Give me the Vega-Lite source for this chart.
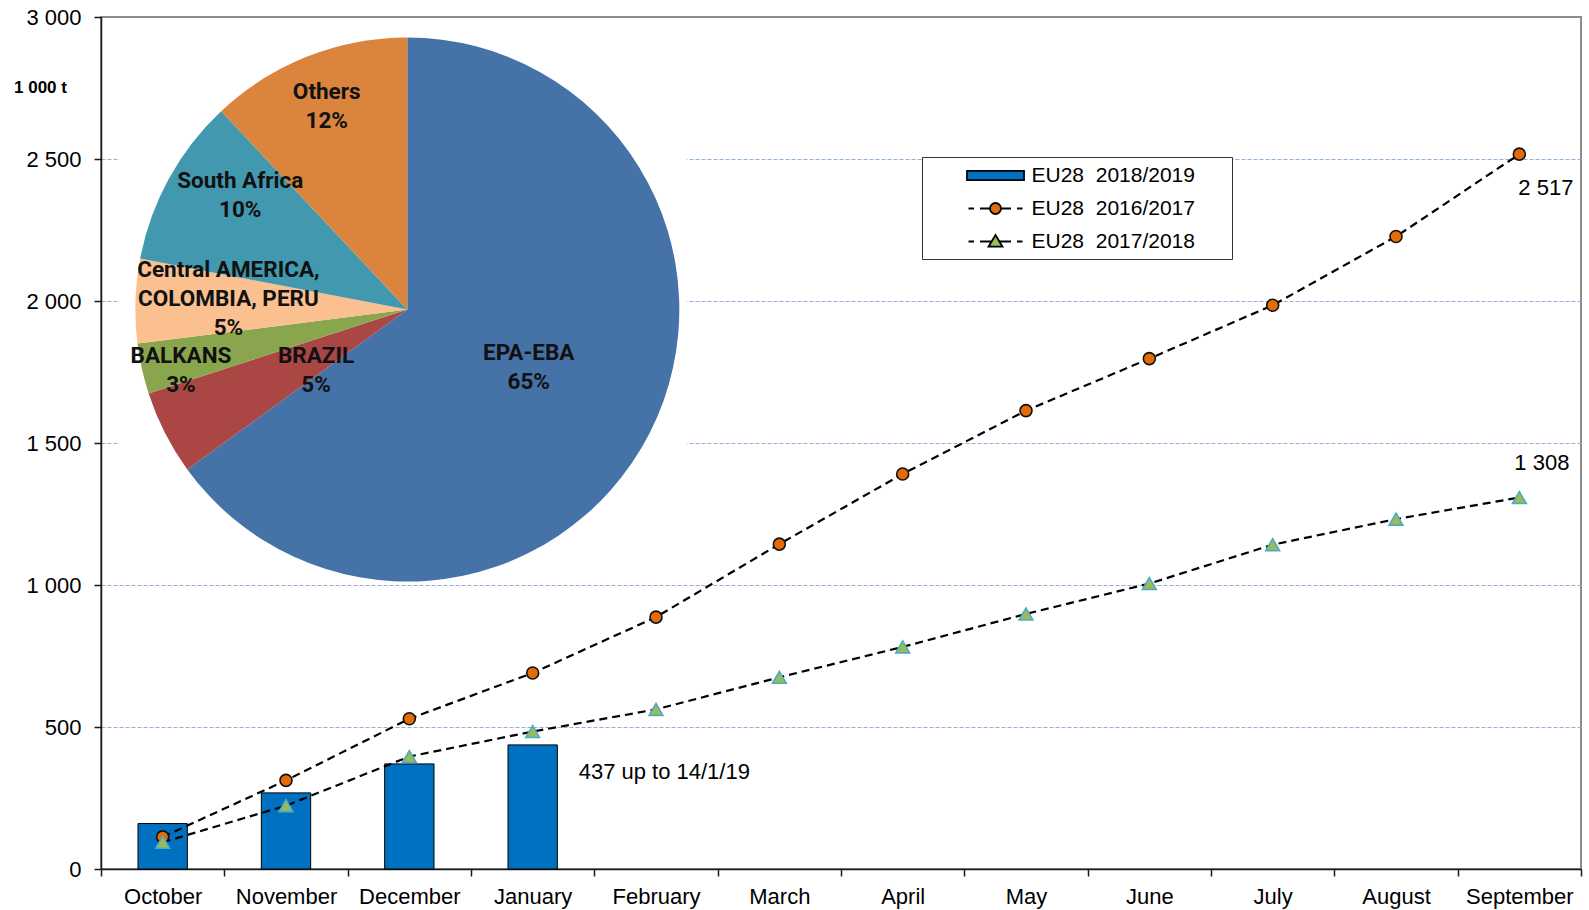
{
  "$schema": "https://vega.github.io/schema/vega-lite/v6.json",
  "width": 1480,
  "height": 852,
  "autosize": {"type": "none"},
  "padding": {"left": 101, "top": 17, "right": 8, "bottom": 41},
  "background": "white",
  "config": {
    "view": {"stroke": "#8c8c8c", "strokeWidth": 2},
    "axis": {
      "labelFont": "Liberation Sans",
      "labelFontSize": 22,
      "labelColor": "black",
      "domainColor": "#1a1a1a",
      "domainWidth": 1.5,
      "tickColor": "#1a1a1a",
      "tickWidth": 1.5,
      "tickSize": 7,
      "titleFont": "Liberation Sans",
      "titleColor": "black"
    },
    "axisX": {"tickBand": "extent", "labelPadding": 10, "labelAngle": 0, "grid": false},
    "axisY": {"gridDash": [4, 2], "gridColor": "#8FB0DA", "gridWidth": 1.2, "labelPadding": 13}
  },
  "data": {
    "values": [
      {"month": "October", "series": "EU28  2018/2019", "value": 160},
      {"month": "November", "series": "EU28  2018/2019", "value": 268},
      {"month": "December", "series": "EU28  2018/2019", "value": 370},
      {"month": "January", "series": "EU28  2018/2019", "value": 437},
      {"month": "October", "series": "EU28  2016/2017", "value": 113},
      {"month": "November", "series": "EU28  2016/2017", "value": 312},
      {"month": "December", "series": "EU28  2016/2017", "value": 529},
      {"month": "January", "series": "EU28  2016/2017", "value": 690},
      {"month": "February", "series": "EU28  2016/2017", "value": 887},
      {"month": "March", "series": "EU28  2016/2017", "value": 1144},
      {"month": "April", "series": "EU28  2016/2017", "value": 1391},
      {"month": "May", "series": "EU28  2016/2017", "value": 1614},
      {"month": "June", "series": "EU28  2016/2017", "value": 1797},
      {"month": "July", "series": "EU28  2016/2017", "value": 1985},
      {"month": "August", "series": "EU28  2016/2017", "value": 2227},
      {"month": "September", "series": "EU28  2016/2017", "value": 2517},
      {"month": "October", "series": "EU28  2017/2018", "value": 94},
      {"month": "November", "series": "EU28  2017/2018", "value": 223},
      {"month": "December", "series": "EU28  2017/2018", "value": 396},
      {"month": "January", "series": "EU28  2017/2018", "value": 484},
      {"month": "February", "series": "EU28  2017/2018", "value": 562},
      {"month": "March", "series": "EU28  2017/2018", "value": 675},
      {"month": "April", "series": "EU28  2017/2018", "value": 782},
      {"month": "May", "series": "EU28  2017/2018", "value": 898},
      {"month": "June", "series": "EU28  2017/2018", "value": 1005},
      {"month": "July", "series": "EU28  2017/2018", "value": 1142},
      {"month": "August", "series": "EU28  2017/2018", "value": 1232},
      {"month": "September", "series": "EU28  2017/2018", "value": 1308}
    ]
  },
  "layer": [
    {
      "transform": [{"filter": "datum.series === 'EU28  2018/2019'"}],
      "mark": {"type": "bar", "width": {"band": 0.4}, "stroke": "black", "strokeWidth": 1},
      "encoding": {
        "x": {
          "field": "month", "type": "nominal",
          "sort": ["October","November","December","January","February","March","April","May","June","July","August","September"],
          "scale": {"type": "band", "domain": ["October","November","December","January","February","March","April","May","June","July","August","September"], "paddingInner": 0, "paddingOuter": 0},
          "axis": {"title": null}
        },
        "y": {
          "field": "value", "type": "quantitative",
          "scale": {"domain": [0, 3000], "nice": false},
          "axis": {
            "values": [0, 500, 1000, 1500, 2000, 2500, 3000],
            "labelExpr": "replace(format(datum.value, ','), ',', ' ')",
            "grid": true,
            "gridOpacity": {"condition": {"test": "datum.value === 0 || datum.value === 3000", "value": 0}, "value": 1},
            "title": "1 000 t",
            "titleAngle": 0,
            "titleX": -61,
            "titleY": 70,
            "titleAlign": "center",
            "titleBaseline": "middle",
            "titleFontSize": 17,
            "titleFontWeight": "bold"
          }
        },
        "color": {
          "field": "series", "type": "nominal",
          "scale": {"domain": ["EU28  2018/2019", "EU28  2016/2017", "EU28  2017/2018"], "range": ["#0070C0", "#E36C09", "#9BBB59"]},
          "legend": {
            "title": null, "orient": "none", "legendX": 821, "legendY": 140, "padding": 7.5,
            "strokeColor": "#333333", "fillColor": "white",
            "symbolSize": 400, "symbolStrokeWidth": 1.8, "symbolOpacity": 1, "symbolOffset": 55, "labelOffset": 25, "rowPadding": 12,
            "labelFont": "Liberation Sans", "labelFontSize": 21, "labelColor": "black", "labelLimit": 400,
            "labelExpr": "replace(datum.label, '  ', '\u00a0\u00a0') + '\u00a0\u00a0\u00a0\u00a0\u00a0\u200b'"
          }
        }
      }
    },
    {
      "mark": {"type": "point", "filled": true, "opacity": 0, "stroke": "black", "strokeWidth": 1.8},
      "encoding": {
        "x": {"field": "month", "type": "nominal", "sort": ["October","November","December","January","February","March","April","May","June","July","August","September"]},
        "y": {"field": "value", "type": "quantitative"},
        "color": {
          "field": "series", "type": "nominal",
          "scale": {"domain": ["EU28  2018/2019", "EU28  2016/2017", "EU28  2017/2018"], "range": ["#0070C0", "#E36C09", "#9BBB59"]},
          "legend": {
            "title": null, "orient": "none", "legendX": 821, "legendY": 140, "padding": 7.5,
            "strokeColor": "#333333", "fillColor": "white",
            "symbolSize": 400, "symbolStrokeWidth": 1.8, "symbolOpacity": 1, "symbolOffset": 55, "labelOffset": 25, "rowPadding": 12,
            "labelFont": "Liberation Sans", "labelFontSize": 21, "labelColor": "black", "labelLimit": 400,
            "labelExpr": "replace(datum.label, '  ', '\u00a0\u00a0') + '\u00a0\u00a0\u00a0\u00a0\u00a0\u200b'"
          }
        },
        "shape": {
          "field": "series", "type": "nominal",
          "scale": {
            "domain": ["EU28  2018/2019", "EU28  2016/2017", "EU28  2017/2018"],
            "range": [
              "M-2.85,-0.47H2.85V0.47H-2.85Z",
              "M-2.7,0H-2.15M-1.55,0H-0.55M0.55,0H1.55M2.15,0H2.7M0.55,0A0.55,0.55,0,1,1,-0.55,0A0.55,0.55,0,1,1,0.55,0Z",
              "M-2.7,0H-2.15M-1.55,0H-0.4M0.4,0H1.55M2.15,0H2.7M0,-0.65L0.7,0.52L-0.7,0.52Z"
            ]
          },
          "legend": {
            "title": null, "orient": "none", "legendX": 821, "legendY": 140, "padding": 7.5,
            "strokeColor": "#333333", "fillColor": "white",
            "symbolSize": 400, "symbolStrokeWidth": 1.8, "symbolOpacity": 1, "symbolOffset": 55, "labelOffset": 25, "rowPadding": 12,
            "labelFont": "Liberation Sans", "labelFontSize": 21, "labelColor": "black", "labelLimit": 400,
            "labelExpr": "replace(datum.label, '  ', '\u00a0\u00a0') + '\u00a0\u00a0\u00a0\u00a0\u00a0\u200b'"
          }
        }
      }
    },
    {
      "data": {"values": [{"panel": "inset"}]},
      "mark": {
        "type": "rect",
        "fill": "white",
        "x": {"expr": "scale('x', 'October') + 0.15 * bandwidth('x')"},
        "x2": {"expr": "scale('x', 'February') + 0.75 * bandwidth('x')"},
        "y": {"expr": "scale('y', 2985)"},
        "y2": {"expr": "scale('y', 1012)"}
      },
      "encoding": {}
    },
    {
      "data": {
        "values": [
          {"region": "EPA-EBA", "pct": 65, "i": 1, "label": "EPA-EBA\n65%"},
          {"region": "BRAZIL", "pct": 5, "i": 2, "label": "BRAZIL\n5%"},
          {"region": "BALKANS", "pct": 3, "i": 3, "label": "BALKANS\n3%"},
          {"region": "Central AMERICA, COLOMBIA, PERU", "pct": 5, "i": 4, "label": "Central AMERICA,\nCOLOMBIA, PERU\n5%"},
          {"region": "South Africa", "pct": 10, "i": 5, "label": "South Africa\n10%"},
          {"region": "Others", "pct": 12, "i": 6, "label": "Others\n12%"}
        ]
      },
      "layer": [
        {
          "mark": {
            "type": "arc",
            "outerRadius": 272,
            "x": {"expr": "scale('x', 'December') + bandwidth('x') / 2 - 2"},
            "y": {"expr": "scale('y', 1970)"}
          },
          "encoding": {
            "theta": {"field": "pct", "type": "quantitative", "stack": true},
            "order": {"field": "i", "type": "quantitative"},
            "fill": {
              "field": "region", "type": "nominal",
              "scale": {"domain": ["EPA-EBA", "BRAZIL", "BALKANS", "Central AMERICA, COLOMBIA, PERU", "South Africa", "Others"], "range": ["#4572A7", "#AA4643", "#89A54E", "#FAC090", "#4198AF", "#DB843D"]},
              "legend": null
            }
          }
        },
        {
          "mark": {
            "type": "text",
            "x": {"expr": "scale('x', 'December') + bandwidth('x') / 2 - 2"},
            "y": {"expr": "scale('y', 1970)"},
            "radius": {"expr": "datum.region === 'EPA-EBA' ? 134 : datum.region === 'BRAZIL' ? 108 : datum.region === 'BALKANS' ? 234 : datum.region === 'South Africa' ? 201 : datum.region === 'Others' ? 219 : 180"},
            "dx": {"expr": "datum.region === 'EPA-EBA' ? 2 : datum.region === 'BRAZIL' ? 5 : datum.region === 'BALKANS' ? 2 : datum.region === 'South Africa' ? 9 : datum.region === 'Others' ? 0 : 1"},
            "dy": {"expr": "datum.region === 'EPA-EBA' ? -17 : datum.region === 'BRAZIL' ? -3 : datum.region === 'BALKANS' ? -5 : datum.region === 'South Africa' ? -32 : datum.region === 'Others' ? -14 : -34"},
            "font": "Roboto",
            "fontWeight": "bold",
            "fontSize": 22.5,
            "lineBreak": "\n",
            "lineHeight": 29,
            "align": "center",
            "baseline": "middle",
            "color": "#111111"
          },
          "encoding": {
            "theta": {"field": "pct", "type": "quantitative", "stack": true},
            "order": {"field": "i", "type": "quantitative"},
            "text": {"field": "label", "type": "nominal"}
          }
        }
      ]
    },
    {
      "transform": [{"filter": "datum.series !== 'EU28  2018/2019'"}],
      "mark": {"type": "line", "stroke": "black", "strokeDash": [8, 5], "strokeWidth": 2.2},
      "encoding": {
        "x": {"field": "month", "type": "nominal", "sort": ["October","November","December","January","February","March","April","May","June","July","August","September"]},
        "y": {"field": "value", "type": "quantitative"},
        "detail": {"field": "series", "type": "nominal"}
      }
    },
    {
      "transform": [{"filter": "datum.series !== 'EU28  2018/2019'"}],
      "mark": {"type": "point", "filled": true, "opacity": 1},
      "encoding": {
        "x": {"field": "month", "type": "nominal", "sort": ["October","November","December","January","February","March","April","May","June","July","August","September"]},
        "y": {"field": "value", "type": "quantitative"},
        "shape": {"condition": {"test": "datum.series === 'EU28  2016/2017'", "value": "circle"}, "value": "triangle-up"},
        "fill": {"condition": {"test": "datum.series === 'EU28  2016/2017'", "value": "#E36C09"}, "value": "#9BBB59"},
        "stroke": {"condition": {"test": "datum.series === 'EU28  2016/2017'", "value": "#111111"}, "value": "#4BACC6"},
        "strokeWidth": {"value": 1.6},
        "size": {"condition": {"test": "datum.series === 'EU28  2016/2017'", "value": 144}, "value": 190}
      }
    },
    {
      "data": {"values": [{"month": "September", "value": 2517, "label": "2 517"}]},
      "mark": {"type": "text", "align": "left", "baseline": "alphabetic", "dx": -1, "dy": 41, "font": "Liberation Sans", "fontSize": 22, "color": "black"},
      "encoding": {
        "x": {"field": "month", "type": "nominal", "sort": ["October","November","December","January","February","March","April","May","June","July","August","September"]},
        "y": {"field": "value", "type": "quantitative"},
        "text": {"field": "label", "type": "nominal"}
      }
    },
    {
      "data": {"values": [{"month": "September", "value": 1308, "label": "1 308"}]},
      "mark": {"type": "text", "align": "left", "baseline": "alphabetic", "dx": -5, "dy": -28, "font": "Liberation Sans", "fontSize": 22, "color": "black"},
      "encoding": {
        "x": {"field": "month", "type": "nominal", "sort": ["October","November","December","January","February","March","April","May","June","July","August","September"]},
        "y": {"field": "value", "type": "quantitative"},
        "text": {"field": "label", "type": "nominal"}
      }
    },
    {
      "data": {"values": [{"month": "January", "value": 437, "label": "437 up to 14/1/19"}]},
      "mark": {"type": "text", "align": "left", "baseline": "alphabetic", "dx": 46, "dy": 34, "font": "Liberation Sans", "fontSize": 22, "color": "black"},
      "encoding": {
        "x": {"field": "month", "type": "nominal", "sort": ["October","November","December","January","February","March","April","May","June","July","August","September"]},
        "y": {"field": "value", "type": "quantitative"},
        "text": {"field": "label", "type": "nominal"}
      }
    }
  ]
}
